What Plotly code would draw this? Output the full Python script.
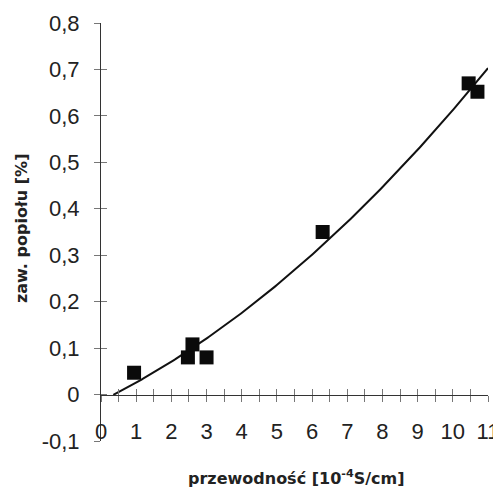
import numpy as np
import plotly.graph_objects as go

# data
conductivity = [0.94, 2.47, 2.6, 3.0, 6.3, 10.45, 10.7]
ash_content = [0.047, 0.08, 0.108, 0.08, 0.35, 0.67, 0.652]

x_tick_vals = [0, 1, 2, 3, 4, 5, 6, 7, 8, 9, 10, 11]
x_tick_text = ["0", "1", "2", "3", "4", "5", "6", "7", "8", "9", "10", "11"]
y_tick_vals = [-0.1, 0, 0.1, 0.2, 0.3, 0.4, 0.5, 0.6, 0.7, 0.8]
y_tick_text = ["-0,1", "0", "0,1", "0,2", "0,3", "0,4", "0,5", "0,6", "0,7", "0,8"]

x_title = "przewodność [10<sup>-4</sup>S/cm]"
y_title = "zaw. popiołu [%]"

# quadratic trend line fitted to the points
coef = np.polyfit(conductivity, ash_content, 2)
xs = np.linspace(0.35, 11, 200)
ys = np.polyval(coef, xs)

# the page body has an 8px margin; shift the figure to compensate
OFF = 8
W, H = 501 - OFF, 492 - OFF
L, T = 101 - OFF, 23 - OFF
R = W - (488 - OFF)
B = H - (441 - OFF)
ymin, ymax = -0.1, 0.8
zero_pos = (0 - ymin) / (ymax - ymin)

fig = go.Figure()
fig.add_trace(go.Scatter(x=xs, y=ys, mode="lines",
                         line=dict(color="#111111", width=2), showlegend=False,
                         hoverinfo="skip"))
fig.add_trace(go.Scatter(x=conductivity, y=ash_content, mode="markers",
                         marker=dict(symbol="square", size=14, color="#0a0a0a"),
                         showlegend=False))

axis_color = "#333333"
tick_color = "#777777"
font_family = "Liberation Sans, Arial, sans-serif"
title_family = "DejaVu Sans, sans-serif"

fig.update_layout(
    width=W, height=H,
    margin=dict(l=L, r=R, t=T, b=B, pad=0, autoexpand=False),
    paper_bgcolor="white", plot_bgcolor="white",
    font=dict(family=font_family, color="#222222"),
    xaxis=dict(range=[0, 11], anchor="free", position=zero_pos,
               automargin=False,
               showgrid=False, zeroline=False, showline=True,
               linecolor=axis_color, linewidth=1,
               tickmode="array", tickvals=x_tick_vals, ticktext=x_tick_text,
               ticks="outside", ticklen=6, tickcolor=tick_color, tickwidth=1,
               tickfont=dict(size=22, color="#222222"),
               ticklabelstandoff=11,
               minor=dict(dtick=0.5, ticks="outside", ticklen=6,
                          tickcolor=tick_color, tickwidth=1)),
    xaxis2=dict(range=[0, 11], anchor="free", position=zero_pos,
                overlaying="x", automargin=False,
                showgrid=False, zeroline=False, showline=False,
                dtick=0.5, tick0=0, ticks="inside", ticklen=6,
                tickcolor=tick_color, tickwidth=1, showticklabels=False),
    yaxis=dict(range=[ymin, ymax], automargin=False,
               showgrid=False, zeroline=False,
               showline=True, linecolor=axis_color, linewidth=1,
               tickmode="array", tickvals=y_tick_vals, ticktext=y_tick_text,
               ticks="outside", ticklen=6, tickcolor=tick_color, tickwidth=1,
               tickfont=dict(size=22, color="#222222"),
               ticklabelstandoff=10),
    yaxis2=dict(range=[ymin, ymax], overlaying="y", anchor="x",
                automargin=False,
                showgrid=False, zeroline=False, showline=False,
                tickmode="array", tickvals=y_tick_vals,
                ticks="inside", ticklen=6, tickcolor=tick_color, tickwidth=1,
                showticklabels=False),
)
# invisible trace to activate secondary axes
fig.add_trace(go.Scatter(x=[0], y=[0], xaxis="x2", yaxis="y2", mode="markers",
                         marker=dict(opacity=0), showlegend=False, hoverinfo="skip"))

pw, ph = W - L - R, H - T - B
fig.add_annotation(text="<b>" + x_title + "</b>", xref="paper", yref="paper",
                   x=(296 - OFF - L) / pw, y=-(477 - OFF - (H - B)) / ph,
                   showarrow=False,
                   font=dict(size=16, color="#222222", family=title_family),
                   xanchor="center", yanchor="middle")
fig.add_annotation(text="<b>" + y_title + "</b>", xref="paper", yref="paper",
                   x=-(L - (21 - OFF)) / pw, y=((H - B) - (229 - OFF)) / ph,
                   showarrow=False,
                   font=dict(size=16, color="#222222", family=title_family),
                   textangle=-90, xanchor="center", yanchor="middle")

fig.write_html("out.html")
